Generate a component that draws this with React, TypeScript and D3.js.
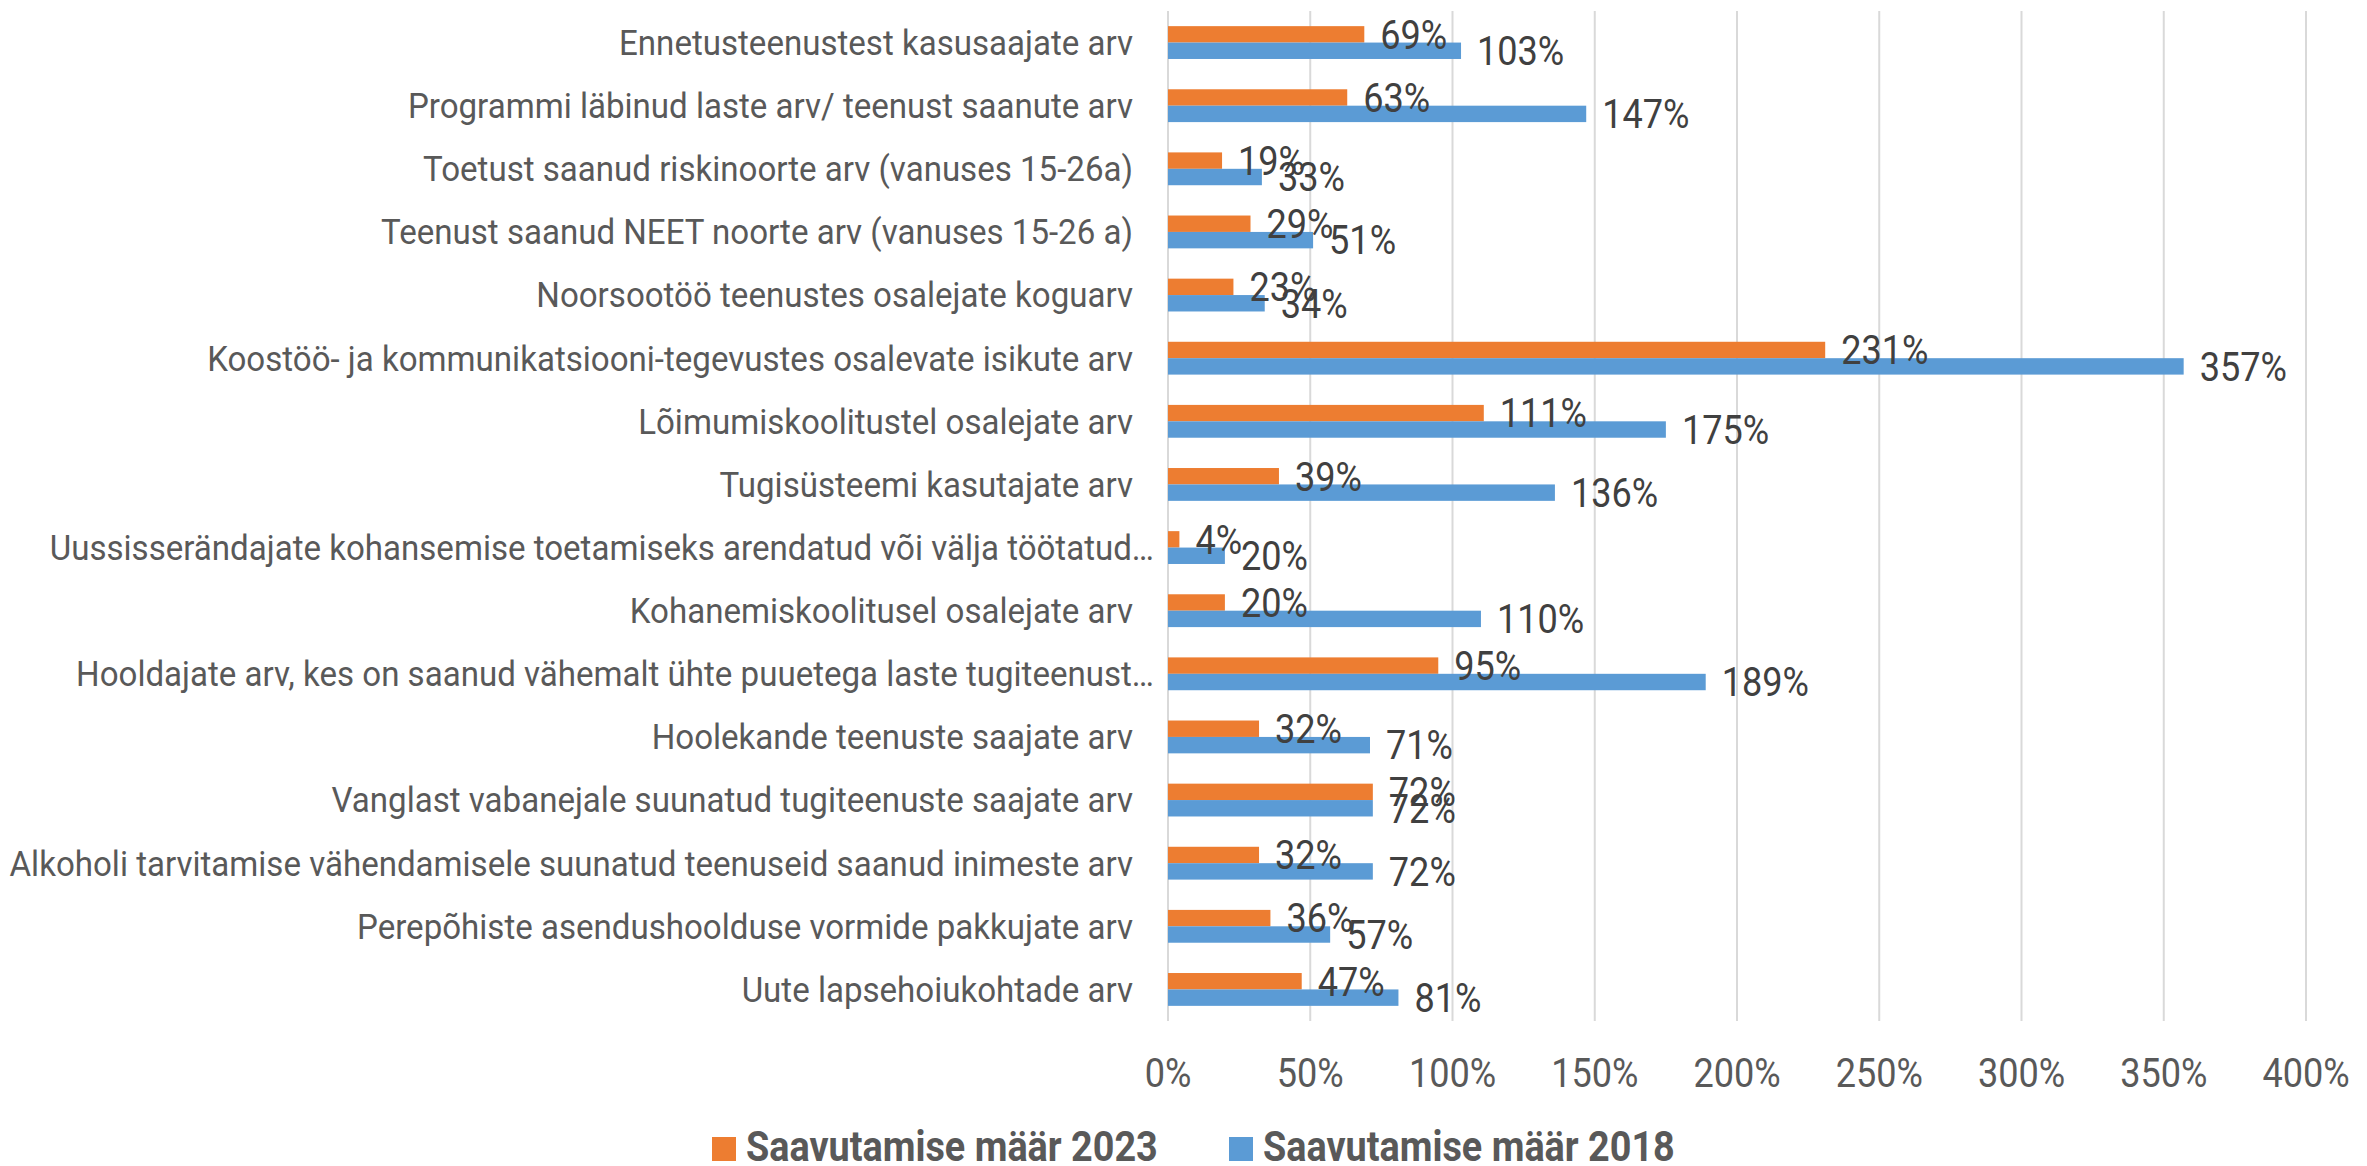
import * as d3 from "d3";

const categories = [
  "Ennetusteenustest kasusaajate arv",
  "Programmi läbinud laste arv/ teenust saanute arv",
  "Toetust saanud riskinoorte arv (vanuses 15-26a)",
  "Teenust saanud NEET noorte arv (vanuses 15-26 a)",
  "Noorsootöö teenustes osalejate koguarv",
  "Koostöö- ja kommunikatsiooni-tegevustes osalevate isikute arv",
  "Lõimumiskoolitustel osalejate arv",
  "Tugisüsteemi kasutajate arv",
  "Uussisserändajate kohansemise toetamiseks arendatud või välja töötatud…",
  "Kohanemiskoolitusel osalejate arv",
  "Hooldajate arv, kes on saanud vähemalt ühte puuetega laste tugiteenust…",
  "Hoolekande teenuste saajate arv",
  "Vanglast vabanejale suunatud tugiteenuste saajate arv",
  "Alkoholi tarvitamise vähendamisele suunatud teenuseid saanud inimeste arv",
  "Perepõhiste asendushoolduse vormide pakkujate arv",
  "Uute lapsehoiukohtade arv",
];

const rate2023 = [0.69, 0.63, 0.19, 0.29, 0.23, 2.31, 1.11, 0.39, 0.04, 0.2, 0.95, 0.32, 0.72, 0.32, 0.36, 0.47];
const rate2018 = [1.03, 1.47, 0.33, 0.51, 0.34, 3.57, 1.75, 1.36, 0.2, 1.1, 1.89, 0.71, 0.72, 0.72, 0.57, 0.81];

const seriesNames = ["Saavutamise määr 2023", "Saavutamise määr 2018"];
const seriesColors = ["#ED7D31", "#5B9BD5"];

const W = 2367;
const H = 1166;
const FONT = "Roboto, 'Noto Sans', sans-serif";

const x = d3.scaleLinear().domain([0, 4]).range([1168, 2306]);
const y = d3.scaleBand().domain(categories).range([11, 1021]).paddingInner(0.48).paddingOuter(0.24);
const row = d3.scaleBand().domain(seriesNames).range([0, y.bandwidth()]);
const pct = d3.format(".0%");
const series = [rate2023, rate2018];

// Roboto squeezed horizontally to mimic the condensed face of the original
function Label(props: { x: number; y: number; anchor?: string; size: number; fill: string; weight?: string; sx?: number; children: any }) {
  return (
    <g transform={`translate(${props.x},${props.y}) scale(${props.sx || 0.88},1)`}>
      <text
        textAnchor={props.anchor || "start"}
        dominantBaseline="central"
        fontSize={props.size}
        fontWeight={props.weight || "normal"}
        fill={props.fill}
        fontFamily={FONT}
      >
        {props.children}
      </text>
    </g>
  );
}

export default function App() {
  const ticks = x.ticks(8);
  const barY = (c: string, k: number) => (y(c) as number) + (row(seriesNames[k]) as number);
  return (
    <svg width={W} height={H} style={{ position: "absolute", left: 0, top: 0, background: "#fff" }}>
      {ticks.map((t) => (
        <line key={t} x1={x(t)} x2={x(t)} y1={11} y2={1021} stroke="#d9d9d9" strokeWidth={2} />
      ))}
      {categories.map((c, i) =>
        series.map((s, k) => (
          <rect
            key={c + k}
            x={x(0)}
            y={barY(c, k)}
            width={x(s[i]) - x(0)}
            height={row.bandwidth()}
            fill={seriesColors[k]}
          />
        ))
      )}
      {categories.map((c, i) =>
        series.map((s, k) => (
          <Label key={c + k} x={x(s[i]) + 16} y={barY(c, k) + row.bandwidth() / 2} size={41} fill="#404040">
            {pct(s[i])}
          </Label>
        ))
      )}
      {categories.map((c) => (
        <Label
          key={c}
          x={x(0) - (c.endsWith("…") ? 14 : 35)}
          y={(y(c) as number) + y.bandwidth() / 2}
          anchor="end"
          size={35}
          sx={0.945}
          fill="#595959"
        >
          {c}
        </Label>
      ))}
      {ticks.map((t) => (
        <Label key={t} x={x(t)} y={1073} anchor="middle" size={41} fill="#595959">
          {pct(t)}
        </Label>
      ))}
      {seriesNames.map((n, k) => {
        const lx = k === 0 ? 712 : 1229;
        return (
          <g key={n}>
            <rect x={lx} y={1137} width={24} height={24} fill={seriesColors[k]} />
            <Label x={lx + 34} y={1147} size={42} weight="bold" sx={0.9} fill="#595959">
              {n}
            </Label>
          </g>
        );
      })}
    </svg>
  );
}
